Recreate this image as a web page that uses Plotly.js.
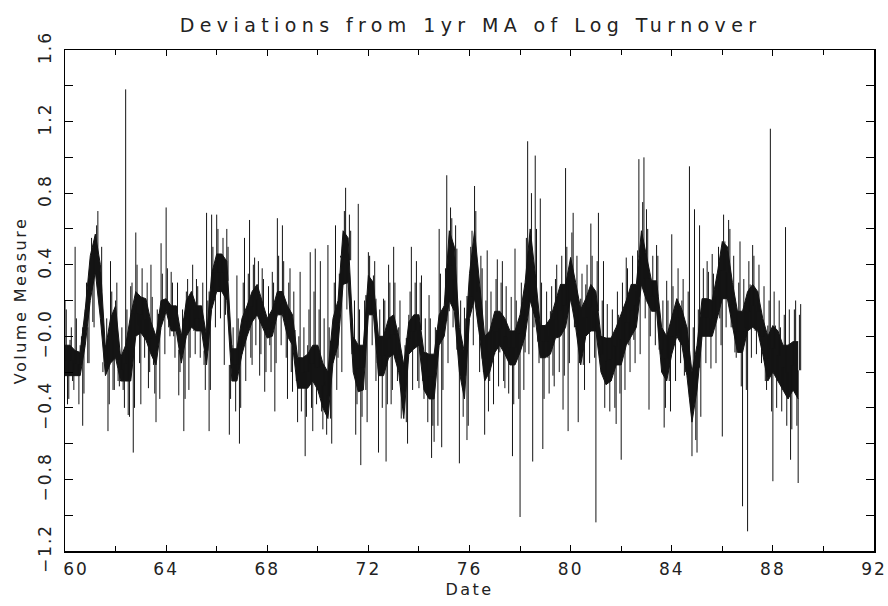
<!DOCTYPE html>
<html>
<head>
<meta charset="utf-8">
<script src="https://cdn.plot.ly/plotly-3.0.1.min.js"></script>
<style>
  html, body { margin: 0; padding: 0; background: #fff; }
  #chart { width: 888px; height: 606px; }
  text.gtitle { letter-spacing: 5.4px; }
  text.xtitle, text.ytitle { letter-spacing: 2.5px; }
  g.xtick text, g.ytick text { letter-spacing: 2px; }
</style>
</head>
<body>
<div id="chart"></div>
<script>
// Time index: start year (19xx) and spacing of readings in years
const startYear = 60.0;
const stepYears = 0.1;      // spacing of the hairline readings
const fringeOffset = 0.05;  // fringe readings sit between the spike readings
const coreStepYears = 0.2;  // spacing of the dense-band readings

// Large deviations (spikes) from 1yr MA of log turnover
const dev1960s = [
  0.2, -0.38, -0.02, -0.25, 0.5, -0.22, -0.05, -0.5, 0.15, -0.15,
  0.3, 0.08, 0.57, 0.7, 0.36, -0.2, -0.05, -0.53, 0.42, -0.3,
  0.2, -0.25, -0.1, -0.3, 1.38, -0.44, 0.28, -0.65, 0.58, 0.06,
  -0.38, 0.2, -0.02, -0.29, 0.4, -0.16, -0.48, 0.0, 0.52, 0.14,
  0.72, 0.05, 0.36, 0.0, 0.17, -0.33, 0.0, -0.53, 0.25, -0.3,
  0.25, 0.03, 0.32, 0.05, 0.17, -0.16, 0.69, -0.53, 0.68, 0.25,
  0.68, 0.28, 0.46, -0.16, 0.6, -0.55, -0.05, -0.25, 0.34, -0.6,
  -0.1, 0.55, 0.05, 0.65, -0.16, 0.44, 0.12, -0.22, 0.38, -0.31,
  0.1, -0.05, 0.36, -0.42, 0.66, 0.12, 0.62, 0.15, -0.35, 0.38,
  -0.31, -0.1, -0.48, 0.36, -0.29, -0.67, -0.05, 0.47, -0.53, 0.49
];
const dev1970s = [
  -0.3, 0.42, -0.52, -0.25, 0.51, -0.46, -0.15, 0.62, -0.12, 0.45,
  0.29, 0.83, 0.4, 0.59, -0.1, -0.55, 0.74, -0.72, -0.05, -0.3,
  0.47, 0.12, 0.34, -0.25, -0.65, 0.0, 0.21, -0.7, 0.4, -0.38,
  0.5, -0.12, 0.05, -0.46, -0.16, -0.48, 0.12, 0.5, -0.07, 0.42,
  -0.29, 0.34, -0.35, -0.09, 0.23, -0.68, -0.59, -0.1, 0.6, -0.62,
  0.17, 0.9, 0.14, 0.66, 0.2, 0.49, -0.71, -0.09, 0.16, -0.58,
  0.21, 0.59, 0.84, 0.25, -0.2, 0.38, -0.55, 0.48, -0.25, 0.03,
  -0.1, 0.43, -0.09, 0.42, -0.29, 0.0, -0.16, -0.67, 0.49, -0.1,
  -1.01, 0.12, -0.09, 1.09, 0.2, -0.7, 1.01, 0.0, 0.77, -0.63,
  0.06, -0.12, 0.14, -0.22, 0.32, -0.01, 0.29, -0.41, 0.94, -0.53
];
const dev1980s = [
  0.44, 0.69, 0.21, -0.48, 0.21, -0.16, 0.29, 0.03, 0.63, 0.05,
  -1.04, 0.69, -0.05, 0.42, -0.27, -0.01, -0.25, -0.05, -0.49, 0.12,
  -0.69, 0.12, 0.44, -0.05, 0.29, -0.02, 0.25, 0.99, 0.4, 1.0,
  0.71, -0.41, 0.31, 0.14, 0.51, 0.14, -0.1, -0.51, 0.31, -0.25,
  0.57, 0.0, 0.21, 0.02, 0.2, -0.22, 0.05, 0.95, -0.67, 0.71,
  -0.65, 0.62, 0.0, 0.21, 0.42, 0.0, 0.46, 0.05, 0.35, 0.1,
  -0.56, 0.53, 0.21, 0.6, 0.25, -0.09, 0.14, 0.53, -0.95, 0.05,
  -1.09, 0.29, 0.51, 0.03, 0.25, 0.05, -0.05, -0.25, 0.06, 1.16,
  -0.81, 0.06, -0.25, 0.05, -0.3, 0.61, -0.35, -0.69, -0.03, 0.2,
  -0.82, 0.18
];

// Smaller day-to-day deviations (the fringe round the band)
const fringe1960s = [
  0.15, -0.35, 0.05, -0.3, 0.1, -0.38, 0.0, -0.32, 0.3, -0.15,
  0.55, 0.05, 0.62, 0.25, 0.5, -0.05, 0.1, -0.38, 0.25, -0.3,
  0.3, -0.28, 0.05, -0.4, 0.15, -0.45, 0.3, -0.4, 0.4, -0.15,
  0.38, -0.12, 0.3, -0.2, 0.22, -0.32, 0.15, -0.35, 0.35, -0.1,
  0.38, 0.0, 0.3, -0.12, 0.3, -0.2, 0.15, -0.35, 0.32, -0.12,
  0.4, -0.1, 0.28, -0.12, 0.3, -0.3, 0.2, -0.3, 0.5, 0.05,
  0.6, 0.1, 0.55, 0.12, 0.5, -0.35, 0.05, -0.42, 0.1, -0.4,
  0.3, -0.25, 0.35, -0.12, 0.4, -0.05, 0.42, -0.1, 0.32, -0.2,
  0.28, -0.2, 0.3, -0.15, 0.45, -0.05, 0.42, -0.12, 0.3, -0.2,
  0.25, -0.25, 0.0, -0.42, 0.05, -0.45, 0.15, -0.4, 0.25, -0.38
];
const fringe1970s = [
  0.15, -0.42, 0.1, -0.55, 0.05, -0.6, 0.3, -0.3, 0.35, -0.2,
  0.7, 0.15, 0.68, 0.1, 0.2, -0.38, 0.15, -0.45, 0.2, -0.48,
  0.45, -0.05, 0.42, -0.15, 0.15, -0.4, 0.2, -0.38, 0.3, -0.3,
  0.3, -0.25, 0.2, -0.4, -0.05, -0.6, 0.25, -0.3, 0.3, -0.25,
  0.3, -0.25, 0.1, -0.48, 0.1, -0.5, 0.05, -0.5, 0.35, -0.3,
  0.38, -0.15, 0.72, 0.05, 0.62, -0.05, 0.2, -0.45, 0.1, -0.5,
  0.5, -0.05, 0.7, 0.05, 0.45, -0.2, 0.2, -0.42, 0.25, -0.38,
  0.32, -0.28, 0.3, -0.25, 0.28, -0.32, 0.22, -0.38, 0.2, -0.35,
  0.3, -0.3, 0.55, -0.1, 0.8, 0.05, 0.6, -0.15, 0.3, -0.35,
  0.25, -0.32, 0.28, -0.28, 0.4, -0.2, 0.45, -0.22, 0.5, -0.15
];
const fringe1980s = [
  0.58, 0.05, 0.45, -0.15, 0.35, -0.3, 0.4, -0.15, 0.45, -0.12,
  0.42, -0.12, 0.2, -0.4, 0.18, -0.42, 0.15, -0.4, 0.25, -0.32,
  0.3, -0.3, 0.38, -0.2, 0.45, -0.15, 0.48, -0.1, 0.75, 0.1,
  0.6, 0.0, 0.45, -0.05, 0.45, -0.1, 0.2, -0.4, 0.2, -0.42,
  0.28, -0.25, 0.38, -0.15, 0.32, -0.2, 0.25, -0.4, 0.05, -0.58,
  0.15, -0.45, 0.38, -0.15, 0.36, -0.18, 0.35, -0.15, 0.5, -0.05,
  0.68, 0.05, 0.65, 0.05, 0.45, -0.12, 0.3, -0.28, 0.32, -0.3,
  0.42, -0.12, 0.45, -0.1, 0.4, -0.15, 0.28, -0.3, 0.2, -0.42,
  0.25, -0.4, 0.2, -0.42, 0.12, -0.5, 0.15, -0.52, 0.15, -0.5,
  0.12
];

// Lower and upper edges of the dense black band, read every 0.2 yr
const coreLow = [
  -0.22, -0.22, -0.22, -0.22, -0.05, 0.2, 0.36, 0.1, -0.22, -0.15,
  -0.12, -0.25, -0.25, -0.25, 0.0, 0.02, -0.02, -0.1, -0.16, 0.05,
  0.14, 0.03, 0.03, -0.15, 0.0, 0.05, 0.03, 0.03, -0.16, 0.15,
  0.25, 0.25, 0.2, -0.25, -0.25, -0.1, 0.0, 0.08, 0.12, 0.05,
  -0.01, 0.0, 0.12, 0.12, 0.0, -0.05, -0.29, -0.29, -0.29, -0.25,
  -0.3, -0.4, -0.46, -0.15, -0.05, 0.29, 0.3, -0.2, -0.31, -0.3,
  0.12, 0.12, -0.22, -0.22, -0.12, -0.1, -0.2, -0.46, -0.1, -0.07,
  -0.05, -0.3, -0.35, -0.35, -0.05, 0.0, 0.2, 0.14, -0.2, -0.35,
  0.1, 0.21, 0.0, -0.25, -0.2, -0.09, -0.05, -0.1, -0.16, -0.16,
  -0.09, 0.0, 0.2, 0.1, -0.12, -0.12, -0.1, -0.01, 0.0, 0.05,
  0.21, 0.05, -0.16, 0.0, 0.03, 0.03, -0.2, -0.27, -0.25, -0.16,
  -0.16, -0.05, 0.0, 0.05, 0.29, 0.2, 0.14, 0.14, -0.2, -0.25,
  -0.1, 0.0, -0.05, -0.22, -0.48, -0.3, 0.0, 0.0, 0.0, 0.1,
  0.21, 0.21, 0.05, -0.09, -0.09, 0.03, 0.05, 0.03, -0.1, -0.25,
  -0.2, -0.25, -0.3, -0.35, -0.3, -0.35
];
const coreHigh = [
  -0.05, -0.05, -0.08, -0.09, 0.15, 0.45, 0.57, 0.4, -0.07, 0.1,
  0.17, -0.12, -0.05, 0.12, 0.25, 0.22, 0.21, 0.08, 0.0, 0.2,
  0.21, 0.17, 0.17, 0.0, 0.2, 0.25, 0.17, 0.17, 0.0, 0.35,
  0.46, 0.46, 0.42, -0.07, -0.07, 0.1, 0.17, 0.25, 0.29, 0.2,
  0.1, 0.15, 0.25, 0.25, 0.17, 0.12, -0.12, -0.12, -0.1, -0.05,
  -0.05, -0.15, -0.2, 0.1, 0.2, 0.59, 0.55, 0.0, -0.05, -0.05,
  0.34, 0.3, 0.0, 0.0, 0.1, 0.12, 0.0, -0.16, 0.08, 0.12,
  0.12, -0.09, -0.1, -0.1, 0.12, 0.17, 0.59, 0.5, 0.05, -0.09,
  0.35, 0.59, 0.3, 0.0, 0.03, 0.14, 0.14, 0.1, 0.03, 0.03,
  0.12, 0.3, 0.6, 0.35, 0.06, 0.06, 0.1, 0.2, 0.29, 0.29,
  0.44, 0.3, 0.15, 0.21, 0.29, 0.25, 0.0, -0.01, -0.01, 0.05,
  0.12, 0.2, 0.29, 0.29, 0.59, 0.45, 0.31, 0.31, 0.05, 0.0,
  0.1, 0.21, 0.15, 0.05, -0.2, -0.05, 0.21, 0.21, 0.2, 0.35,
  0.53, 0.5, 0.3, 0.14, 0.14, 0.25, 0.29, 0.25, 0.1, 0.0,
  0.06, 0.03, -0.05, -0.05, -0.03, -0.03
];

// Axis ticks and labels (the first x label sits a little right of its tick, as in the original)
const xTickVals = [60, 64, 68, 72, 76, 80, 84, 88, 92];
const xTickText = ["\u00a0\u00a0\u00a060", "64", "68", "72", "76", "80", "84", "88", "92"];
const yTickVals = [-1.2, -0.8, -0.4, 0, 0.4, 0.8, 1.2, 1.6];
const yTickText = ["\u22121.2", "\u22120.8", "\u22120.4", "\u22120.0", "0.4", "0.8", "1.2", "1.6"];

// ---- build traces from the arrays ----
const spikes = dev1960s.concat(dev1970s, dev1980s);
const fringe = fringe1960s.concat(fringe1970s, fringe1980s);
const coreDates = coreLow.map((_, k) => startYear + k * coreStepYears);

// Each reading is drawn as a hairline from the middle of the dense band out to its value
const hairX = [], hairY = [];
function addHairlines(vals, offset) {
  vals.forEach((v, i) => {
    const t = startYear + offset + i * stepYears;
    const k = Math.min(Math.round((t - startYear) / coreStepYears), coreLow.length - 1);
    const mid = (coreLow[k] + coreHigh[k]) / 2;
    hairX.push(t, t, null);
    hairY.push(mid, v, null);
  });
}
addHairlines(fringe, fringeOffset);
addHairlines(spikes, 0);

const ink = "#141414";
const fontFamily = "DejaVu Sans, sans-serif";

const traces = [
  {
    type: "scatter", mode: "lines",
    x: coreDates, y: coreLow,
    line: { color: ink, width: 1 },
    hoverinfo: "skip"
  },
  {
    type: "scatter", mode: "lines",
    x: coreDates, y: coreHigh,
    fill: "tonexty", fillcolor: ink,
    line: { color: ink, width: 1 },
    hoverinfo: "skip"
  },
  {
    type: "scatter", mode: "lines",
    x: hairX, y: hairY,
    connectgaps: false,
    line: { color: ink, width: 1 },
    hoverinfo: "skip"
  }
];

const layout = {
  width: 888,
  height: 606,
  paper_bgcolor: "#fff",
  plot_bgcolor: "#fff",
  margin: { l: 65, r: 14, t: 50, b: 55 },
  showlegend: false,
  title: {
    text: "Deviations from 1yr MA of Log Turnover",
    font: { family: fontFamily, size: 19, color: "#222" },
    x: 0.53, xanchor: "center",
    y: 0.958, yanchor: "middle"
  },
  xaxis: {
    range: [60, 92],
    tickmode: "array",
    tickvals: xTickVals,
    ticktext: xTickText,
    ticks: "inside",
    ticklen: 6,
    tickwidth: 1,
    tickcolor: "#000",
    minor: { dtick: 2, tick0: 60, ticks: "inside", ticklen: 5, tickcolor: "#000", showgrid: false },
    showline: true,
    linecolor: "#000",
    linewidth: 1.5,
    mirror: "ticks",
    showgrid: false,
    zeroline: false,
    tickfont: { family: fontFamily, size: 17, color: "#222" },
    ticklabelstandoff: 2,
    title: { text: "Date", font: { family: fontFamily, size: 16, color: "#222" }, standoff: 6 }
  },
  yaxis: {
    range: [-1.2, 1.6],
    tickmode: "array",
    tickvals: yTickVals,
    ticktext: yTickText,
    tickangle: -90,
    ticks: "inside",
    ticklen: 8,
    tickwidth: 1,
    tickcolor: "#000",
    minor: { dtick: 0.2, tick0: -1.2, ticks: "inside", ticklen: 8, tickcolor: "#000", showgrid: false },
    showline: true,
    linecolor: "#000",
    linewidth: 1.5,
    mirror: "ticks",
    showgrid: false,
    zeroline: false,
    tickfont: { family: fontFamily, size: 17, color: "#222" },
    ticklabelstandoff: 6,
    title: { text: "Volume Measure", font: { family: fontFamily, size: 16, color: "#222" }, standoff: 4 }
  }
};

Plotly.newPlot("chart", traces, layout, { displayModeBar: false, staticPlot: true });
</script>
</body>
</html>
